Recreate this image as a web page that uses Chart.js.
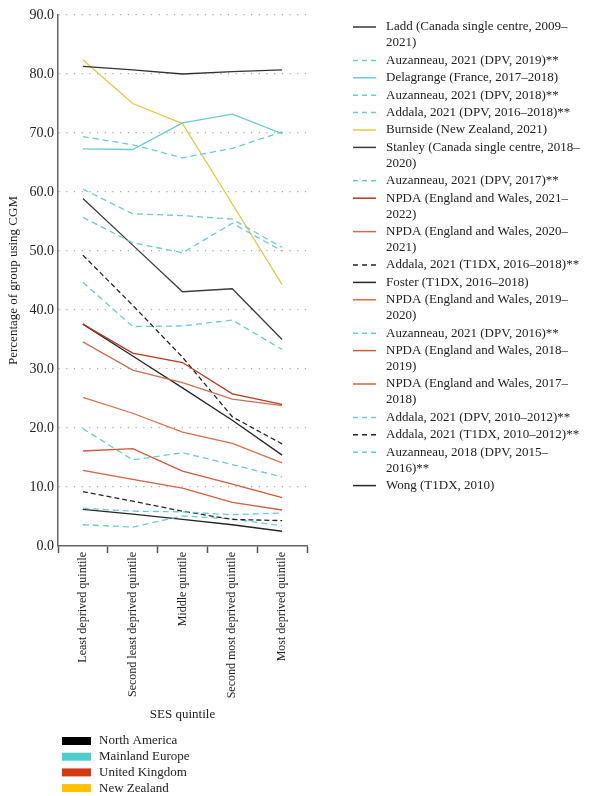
<!DOCTYPE html>
<html>
<head>
<meta charset="utf-8">
<script src="https://cdn.jsdelivr.net/npm/chart.js@4.4.1/dist/chart.umd.min.js"></script>
<style>
  html, body { margin: 0; padding: 0; background: #fff; }
  #wrap { width: 589px; height: 796px; }
</style>
</head>
<body>
<div id="wrap"><canvas id="c" width="589" height="796"></canvas></div>
<script>
// SES quintiles (x axis categories)
const quintiles = [
  'Least deprived quintile',
  'Second least deprived quintile',
  'Middle quintile',
  'Second most deprived quintile',
  'Most deprived quintile'
];

// Percentage of group using CGM, one array per study (least -> most deprived)
const ladd          = [81.3, 80.7, 80.0, 80.4, 80.7];
const auzanneau2019 = [69.4, 68.0, 65.8, 67.4, 70.2];
const delagrange    = [67.3, 67.2, 71.7, 73.2, 69.9];
const auzanneau2018 = [60.5, 56.3, 56.0, 55.4, 50.6];
const addalaDpv1618 = [55.7, 51.4, 49.7, 54.7, 50.0];
const burnside      = [82.4, 75.0, 71.6, 58.0, 44.3];
const stanley       = [58.9, 51.0, 43.1, 43.6, 35.0];
const auzanneau2017 = [44.7, 37.2, 37.3, 38.3, 33.3];
const npda2122      = [37.6, 32.7, 31.1, 25.8, 24.0];
const npda2021      = [34.6, 29.8, 27.7, 24.9, 23.8];
const addalaT1dx1618 = [49.3, 40.8, 32.0, 21.9, 17.3];
const foster        = [37.6, 32.2, 26.8, 21.3, 15.4];
const npda1920      = [25.2, 22.5, 19.3, 17.4, 14.1];
const auzanneau2016 = [19.9, 14.6, 15.8, 13.8, 11.7];
const npda1819      = [16.1, 16.5, 12.7, 10.5, 8.2];
const npda1718      = [12.8, 11.3, 9.8, 7.4, 6.1];
const addalaDpv1012 = [6.4, 5.9, 5.8, 5.3, 5.6];
const addalaT1dx1012 = [9.2, 7.6, 5.9, 4.5, 4.3];
const auzanneau1516 = [3.6, 3.2, 5.1, 4.6, 3.4];
const wong          = [6.2, 5.4, 4.5, 3.6, 2.5];

// Region groups shown in the colour key
const regions = ['North America', 'Mainland Europe', 'United Kingdom', 'New Zealand'];

// Y axis range and tick step
const yMin = 0, yMax = 90, yStep = 10;

// Studies: label, values, region, dashed (pooled ** estimates)
const studies = [
  ['Ladd (Canada single centre, 2009–2021)', ladd, 'North America', false],
  ['Auzanneau, 2021 (DPV, 2019)**', auzanneau2019, 'Mainland Europe', true],
  ['Delagrange (France, 2017–2018)', delagrange, 'Mainland Europe', false],
  ['Auzanneau, 2021 (DPV, 2018)**', auzanneau2018, 'Mainland Europe', true],
  ['Addala, 2021 (DPV, 2016–2018)**', addalaDpv1618, 'Mainland Europe', true],
  ['Burnside (New Zealand, 2021)', burnside, 'New Zealand', false],
  ['Stanley (Canada single centre, 2018–2020)', stanley, 'North America', false],
  ['Auzanneau, 2021 (DPV, 2017)**', auzanneau2017, 'Mainland Europe', true],
  ['NPDA (England and Wales, 2021–2022)', npda2122, 'United Kingdom', false],
  ['NPDA (England and Wales, 2020–2021)', npda2021, 'United Kingdom', false],
  ['Addala, 2021 (T1DX, 2016–2018)**', addalaT1dx1618, 'North America', true],
  ['Foster (T1DX, 2016–2018)', foster, 'North America', false],
  ['NPDA (England and Wales, 2019–2020)', npda1920, 'United Kingdom', false],
  ['Auzanneau, 2021 (DPV, 2016)**', auzanneau2016, 'Mainland Europe', true],
  ['NPDA (England and Wales, 2018–2019)', npda1819, 'United Kingdom', false],
  ['NPDA (England and Wales, 2017–2018)', npda1718, 'United Kingdom', false],
  ['Addala, 2021 (DPV, 2010–2012)**', addalaDpv1012, 'Mainland Europe', true],
  ['Addala, 2021 (T1DX, 2010–2012)**', addalaT1dx1012, 'North America', true],
  ['Auzanneau, 2018 (DPV, 2015–2016)**', auzanneau1516, 'Mainland Europe', true],
  ['Wong (T1DX, 2010)', wong, 'North America', false]
];

// ---- styling ----
const FONT = '"Liberation Serif", "Times New Roman", serif';
const TEXT = '#222';
const keyColours = {
  'North America': '#000000',
  'Mainland Europe': '#4fcdcd',
  'United Kingdom': '#d33a12',
  'New Zealand': '#ffc000'
};
const lineColours = {
  'North America': '#262626',
  'Mainland Europe': '#6ccbd0',
  'United Kingdom': '#c95a3e',
  'New Zealand': '#e8c84a'
};
// slight shade variations for the individual NPDA years
const npdaShades = {
  'NPDA (England and Wales, 2021–2022)': '#b8391f',
  'NPDA (England and Wales, 2020–2021)': '#c87058',
  'NPDA (England and Wales, 2019–2020)': '#d2704a',
  'NPDA (England and Wales, 2018–2019)': '#cc5a3a',
  'NPDA (England and Wales, 2017–2018)': '#cf6240'
};
const greyShades = {
  'Ladd (Canada single centre, 2009–2021)': '#333333',
  'Stanley (Canada single centre, 2018–2020)': '#3c3c3c'
};

const datasets = studies.map(([label, values, region, dashed]) => {
  const colour = npdaShades[label] || greyShades[label] || lineColours[region];
  return {
    label,
    data: values,
    borderColor: colour,
    backgroundColor: colour,
    borderWidth: 1.3,
    borderDash: dashed ? (region === 'North America' ? [5, 3] : [6, 4]) : [],
    pointRadius: 0,
    pointHoverRadius: 0,
    tension: 0,
    fill: false
  };
});

// word wrap that may break after spaces or en dashes
function wrapText(ctx, text, maxWidth) {
  const parts = text.split(/(?<=[ –])/);
  const lines = [];
  let cur = '';
  for (const p of parts) {
    const trial = cur + p;
    if (cur && ctx.measureText(trial.trimEnd()).width > maxWidth) {
      lines.push(cur.trimEnd());
      cur = p;
    } else {
      cur = trial;
    }
  }
  if (cur) lines.push(cur.trimEnd());
  return lines;
}

// study legend on the right and region colour key underneath
const keysPlugin = {
  id: 'keys',
  afterDraw(chart) {
    const ctx = chart.ctx;
    ctx.save();
    ctx.font = `13px ${FONT}`;
    ctx.textBaseline = 'middle';
    ctx.textAlign = 'left';
    let y = 27;
    chart.data.datasets.forEach(ds => {
      const lines = wrapText(ctx, ds.label, 196);
      ctx.save();
      ctx.strokeStyle = ds.borderColor;
      ctx.lineWidth = 1.5;
      ctx.setLineDash(ds.borderDash.length ? [5, 4] : []);
      ctx.beginPath();
      ctx.moveTo(353, y);
      ctx.lineTo(376, y);
      ctx.stroke();
      ctx.restore();
      ctx.fillStyle = TEXT;
      lines.forEach((ln, i) => ctx.fillText(ln, 386, y + i * 16));
      y += (lines.length - 1) * 16 + 17.4;
    });

    let ky = 741;
    regions.forEach(r => {
      ctx.fillStyle = keyColours[r];
      ctx.fillRect(62, ky - 4, 29, 8);
      ctx.fillStyle = TEXT;
      ctx.fillText(r, 99, ky);
      ky += 15.7;
    });
    ctx.restore();
  }
};

new Chart(document.getElementById('c'), {
  type: 'line',
  data: { labels: quintiles, datasets },
  plugins: [keysPlugin],
  options: {
    responsive: false,
    devicePixelRatio: 1,
    animation: false,
    events: [],
    layout: { padding: { left: 0, top: 15, right: 282, bottom: 72 } },
    plugins: {
      legend: { display: false },
      tooltip: { enabled: false },
      title: { display: false }
    },
    scales: {
      x: {
        type: 'category',
        offset: true,
        afterFit(scale) { scale.height = 178; },
        grid: {
          display: true,
          offset: true,
          drawOnChartArea: false,
          drawTicks: true,
          tickLength: 7,
          tickWidth: 1.5,
          tickColor: '#555'
        },
        border: { display: true, color: '#666', width: 1.5 },
        ticks: {
          autoSkip: false,
          minRotation: 90,
          maxRotation: 90,
          padding: -1,
          color: TEXT,
          font: { family: FONT, size: 12 }
        },
        title: {
          display: true,
          text: 'SES quintile',
          color: TEXT,
          font: { family: FONT, size: 13 },
          padding: { top: 4, bottom: 2 }
        }
      },
      y: {
        min: yMin,
        max: yMax,
        afterFit(scale) { scale.width = 58; },
        grid: {
          display: true,
          drawTicks: false,
          color: '#a8a8a8',
          lineWidth: 1.2
        },
        border: { display: true, color: '#666', width: 1.5, dash: [1.2, 6.5] },
        ticks: {
          stepSize: yStep,
          padding: 4,
          color: TEXT,
          font: { family: FONT, size: 14 },
          callback: v => Number(v).toFixed(1)
        },
        title: {
          display: true,
          text: 'Percentage of group using CGM',
          color: TEXT,
          font: { family: FONT, size: 13 },
          padding: { top: 6, bottom: 0 }
        }
      }
    }
  }
});
</script>
</body>
</html>
